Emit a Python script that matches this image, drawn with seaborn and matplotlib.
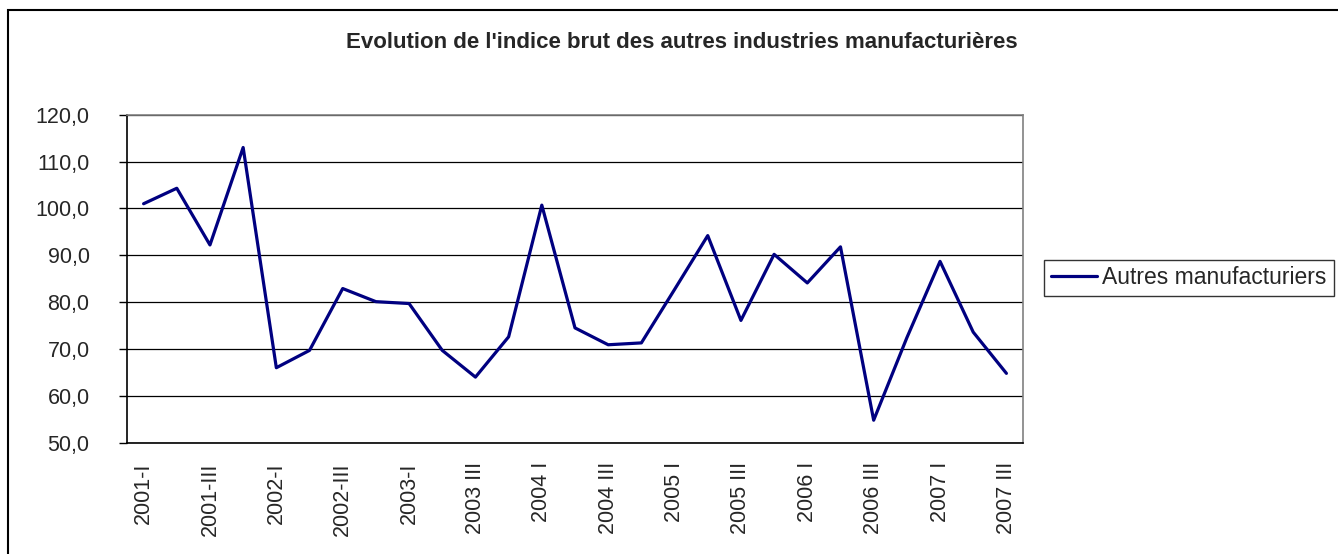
import matplotlib
matplotlib.use("Agg")
import matplotlib.pyplot as plt
import seaborn as sns
import pandas as pd
from matplotlib.patches import Rectangle

# quarters 2001-I .. 2007-III
quarters = [
    "2001-I", "2001-II", "2001-III", "2001-IV",
    "2002-I", "2002-II", "2002-III", "2002-IV",
    "2003-I", "2003 II", "2003 III", "2003 IV",
    "2004 I", "2004 II", "2004 III", "2004 IV",
    "2005 I", "2005 II", "2005 III", "2005 IV",
    "2006 I", "2006 II", "2006 III", "2006 IV",
    "2007 I", "2007 II", "2007 III",
]
indice = [
    101.0, 104.3, 92.2, 113.0,
    66.0, 69.7, 82.9, 80.1,
    79.7, 69.7, 64.0, 72.6,
    100.7, 74.5, 70.9, 71.3,
    82.7, 94.2, 76.1, 90.2,
    84.1, 91.8, 54.8, 72.4,
    88.7, 73.6, 64.8,
]
y_ticks = [50, 60, 70, 80, 90, 100, 110, 120]

df = pd.DataFrame({"trimestre": quarters, "Autres manufacturiers": indice})

sns.set_style("white")
plt.rcParams["font.family"] = ["Liberation Sans", "DejaVu Sans"]

fig = plt.figure(figsize=(13.38, 5.54), dpi=100)
ax = fig.add_axes([127 / 1338, 1 - 442.7 / 554, (1023 - 127) / 1338, (442.7 - 114.7) / 554])

sns.lineplot(data=df, x="trimestre", y="Autres manufacturiers", ax=ax,
             color="#000080", linewidth=2.3, label="Autres manufacturiers", sort=False)

ax.set_xlim(-0.5, len(quarters) - 0.5)
ax.set_ylim(50, 120)
ax.set_yticks(y_ticks)
ax.set_yticklabels([f"{v:.1f}".replace(".", ",") for v in y_ticks], fontsize=15.5)
ax.yaxis.grid(True, color="black", linewidth=0.9)
ax.set_axisbelow(True)

pos = list(range(0, len(quarters), 2))
ax.set_xticks(pos)
ax.set_xticklabels([quarters[i] for i in pos], rotation=90, fontsize=15.5)
ax.set_xticks([i - 0.5 for i in range(len(quarters) + 1)], minor=True)
ax.tick_params(axis="x", which="major", length=0, pad=14)
ax.tick_params(axis="x", which="minor", length=6, width=1, color="black", direction="out")
ax.tick_params(axis="y", length=6, width=1, color="black", direction="out", left=True, pad=21)
ax.set_xlabel("")
ax.set_ylabel("")

for side in ["left", "bottom"]:
    ax.spines[side].set_color("black")
    ax.spines[side].set_linewidth(1.2)
for side in ["top", "right"]:
    ax.spines[side].set_color("#808080")
    ax.spines[side].set_linewidth(1.2)

ax.get_legend().remove()
handles, labels = ax.get_legend_handles_labels()
leg = fig.legend(handles, labels, loc="center left",
                 bbox_to_anchor=(1044 / 1338, 1 - 278 / 554),
                 fontsize=16.5, frameon=True, fancybox=False, handlelength=2.0,
                 handletextpad=0.25, borderpad=0.3, borderaxespad=0)
leg.get_frame().set_edgecolor("black")
leg.get_frame().set_linewidth(1.0)

fig.text(682 / 1338, 1 - 43 / 554,
         "Evolution de l'indice brut des autres industries manufacturières",
         ha="center", va="center", fontsize=16, fontweight="bold")

fig.add_artist(Rectangle((8 / 1338, -0.1), 1.2, 1.1 - 10 / 554,
                         transform=fig.transFigure, fill=False,
                         edgecolor="black", linewidth=1.5))

fig.savefig("out.png", dpi=100)
